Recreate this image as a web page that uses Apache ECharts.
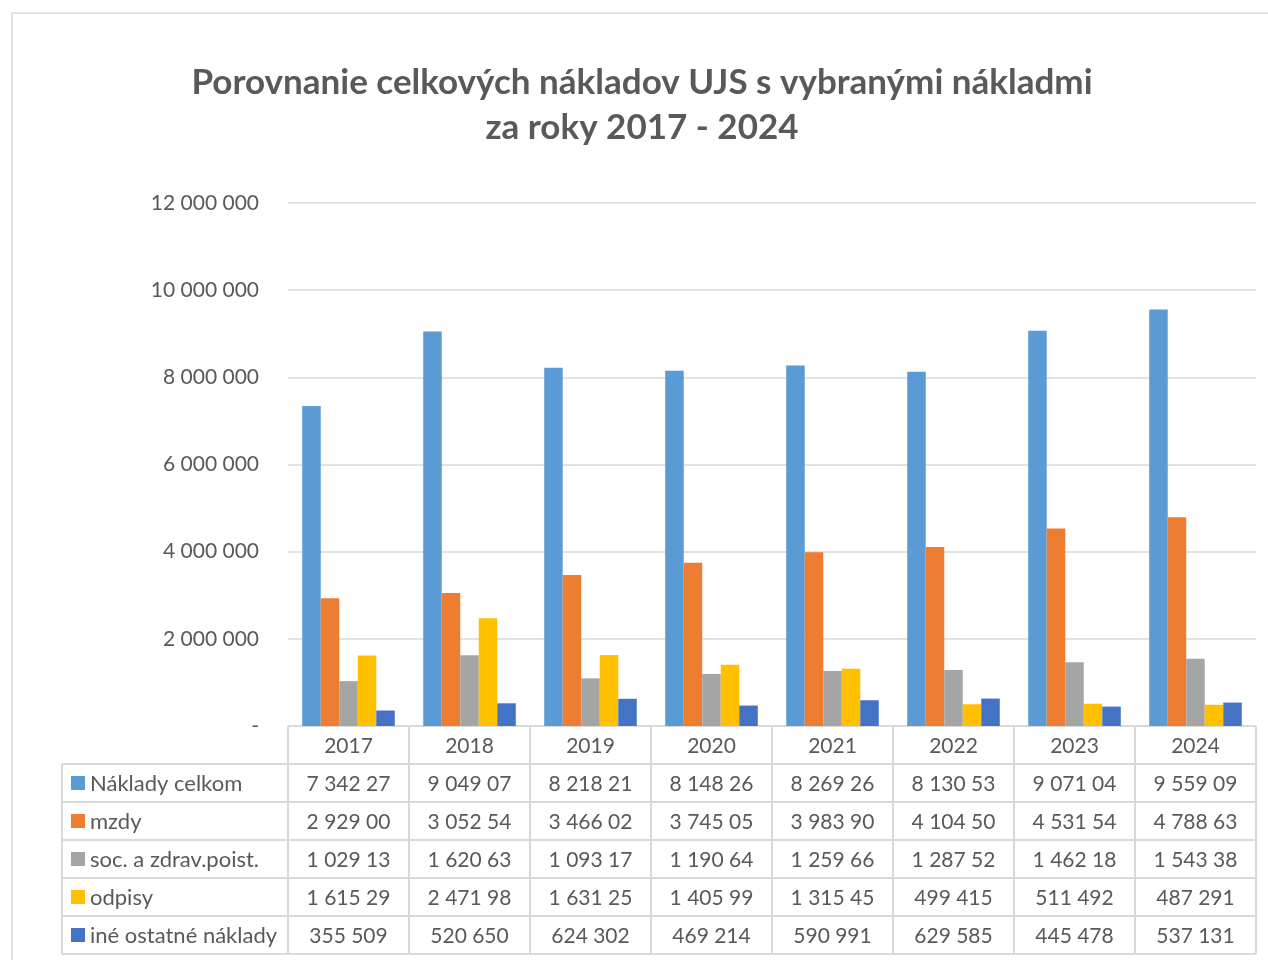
<!DOCTYPE html>
<html>
<head>
<meta charset="utf-8">
<script src="https://cdn.jsdelivr.net/npm/echarts@6/dist/echarts.min.js"></script>
<style>
html,body{margin:0;padding:0;background:#fff;}
#c{width:1268px;height:960px;}
</style>
</head>
<body>
<div id="c"></div>
<script>
const years = ['2017','2018','2019','2020','2021','2022','2023','2024'];
const seriesNames = ['Náklady celkom','mzdy','soc. a zdrav.poist.','odpisy','iné ostatné náklady'];
const colors = ['#5B9BD5','#ED7D31','#A5A5A5','#FFC000','#4472C4'];
const nakladyCelkom = [7342270, 9049070, 8218210, 8148260, 8269260, 8130530, 9071040, 9559090];
const mzdy = [2929000, 3052540, 3466020, 3745050, 3983900, 4104500, 4531540, 4788630];
const socZdrav = [1029130, 1620630, 1093170, 1190640, 1259660, 1287520, 1462180, 1543380];
const odpisy = [1615290, 2471980, 1631250, 1405990, 1315450, 499415, 511492, 487291];
const ineOstatne = [355509, 520650, 624302, 469214, 590991, 629585, 445478, 537131];
const yTicks = [0, 2000000, 4000000, 6000000, 8000000, 10000000, 12000000];
const allSeries = [nakladyCelkom, mzdy, socZdrav, odpisy, ineOstatne];

const FONT = 'Lato';
const TXT = '#595959';
const LINE = '#d9d9d9';

function fmt(v){
  if (v === 0) return '-';
  return String(v).replace(/\B(?=(\d{3})+(?!\d))/g, ' ');
}
// Excel data table truncates the cell text to the column width
function cellText(v){ return fmt(v).slice(0, 8); }

const chart = echarts.init(document.getElementById('c'), null, {renderer:'canvas'});
const gridTop = 203, gridBottomY = 726, gridLeft = 288, gridRightX = 1256;

chart.setOption({
  animation:false,
  backgroundColor:'#fff',
  title:{
    text:'Porovnanie celkových nákladov UJS s vybranými nákladmi\nza roky 2017 - 2024',
    left: 637, textAlign:'center', top:55,
    textStyle:{fontFamily:FONT, fontWeight:'bold', fontSize:35, color:TXT, lineHeight:45}
  },
  grid:{left:gridLeft, right:1268-gridRightX, top:gridTop, bottom:960-gridBottomY, containLabel:false},
  xAxis:{
    type:'category', data:years,
    axisLine:{show:false}, axisTick:{show:false}, axisLabel:{show:false}
  },
  yAxis:{
    type:'value', min:yTicks[0], max:yTicks[yTicks.length-1], interval:yTicks[1]-yTicks[0],
    axisLine:{show:false}, axisTick:{show:false},
    axisLabel:{fontFamily:FONT, fontSize:21, color:TXT, margin:29, formatter:fmt},
    splitLine:{lineStyle:{color:LINE, width:1.5}}
  },
  series: allSeries.map((d,i)=>({
    name:seriesNames[i], type:'bar', data:d, barGap:'0%', barCategoryGap:'23.5%',
    itemStyle:{color:colors[i]}
  }))
});

// data table below the plot
const rowH = 38;
const tableLeft = 62;
const g = [];
g.push({type:'rect', shape:{x:12, y:13, width:1400, height:1100}, style:{fill:null, stroke:LINE, lineWidth:1.5}, silent:true, z:0});
const catW = (chart.convertToPixel({xAxisIndex:0}, 1) - chart.convertToPixel({xAxisIndex:0}, 0));
const x0 = chart.convertToPixel({xAxisIndex:0}, 0) - catW/2;
const bottomY = gridBottomY + rowH*6;
g.push({type:'line', shape:{x1:x0, y1:gridBottomY, x2:x0+catW*years.length, y2:gridBottomY}, style:{stroke:LINE, lineWidth:2}});
for (let r=1; r<=6; r++){
  const y = gridBottomY + rowH*r;
  g.push({type:'line', shape:{x1:tableLeft, y1:y, x2:x0+catW*years.length, y2:y}, style:{stroke:LINE, lineWidth:2}});
}
g.push({type:'line', shape:{x1:tableLeft, y1:gridBottomY+rowH, x2:tableLeft, y2:bottomY}, style:{stroke:LINE, lineWidth:2}});
for (let c=0; c<=years.length; c++){
  const x = x0 + catW*c;
  g.push({type:'line', shape:{x1:x, y1:gridBottomY, x2:x, y2:bottomY}, style:{stroke:LINE, lineWidth:2}});
}
years.forEach((yr,i)=>{
  const cx = chart.convertToPixel({xAxisIndex:0}, i);
  g.push({type:'text', x:cx, y:gridBottomY + rowH/2 + 1, style:{text:yr, fill:TXT, font:'21px '+FONT, textAlign:'center', textVerticalAlign:'middle'}});
});
allSeries.forEach((d,r)=>{
  const cy = gridBottomY + rowH*(r+1) + rowH/2;
  g.push({type:'rect', shape:{x:71, y:cy-7, width:14, height:14}, style:{fill:colors[r]}});
  g.push({type:'text', x:90, y:cy+1, style:{text:seriesNames[r], fill:TXT, font:'22px '+FONT, textAlign:'left', textVerticalAlign:'middle'}});
  d.forEach((v,i)=>{
    const cx = chart.convertToPixel({xAxisIndex:0}, i);
    g.push({type:'text', x:cx, y:cy+1, style:{text:cellText(v), fill:TXT, font:'21px '+FONT, textAlign:'center', textVerticalAlign:'middle'}});
  });
});
chart.setOption({graphic:{elements:g}});
</script>
</body>
</html>
